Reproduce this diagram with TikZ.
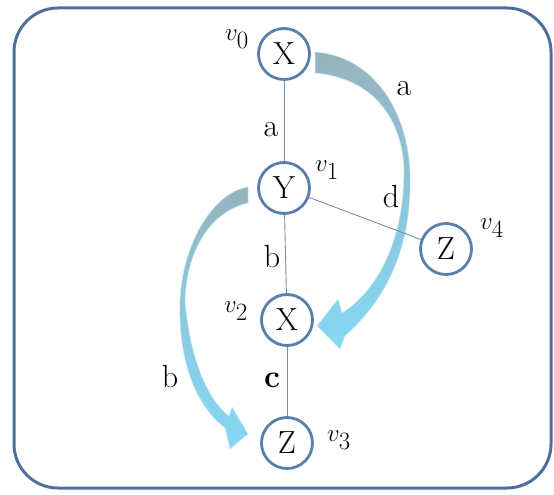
\documentclass[tikz,border=0pt]{standalone}
\definecolor{framec}{HTML}{4E7099}
\definecolor{nodec}{HTML}{5A7FAA}
\definecolor{edgec}{HTML}{7D8EA3}
\definecolor{arrtop}{HTML}{97B3BD}
\definecolor{arrbot}{HTML}{85D7F3}
\begin{document}
\begin{tikzpicture}[x=1pt,y=-1pt,
  vert/.style={circle,draw=nodec,line width=2.8pt,minimum size=51pt,inner sep=0pt,fill=white,font=\fontsize{32}{38}\selectfont},
  lbl/.style={font=\fontsize{35}{40}\selectfont,inner sep=0pt},
  elbl/.style={font=\fontsize{32}{36}\selectfont,inner sep=0pt},
  link/.style={draw=edgec,line width=0.9pt},
  fatarrow/.style={draw=arrbot!45!white,line width=0.5pt,top color=arrtop,bottom color=arrbot}]
\useasboundingbox (0,0) rectangle (554,495);
\draw[framec,line width=3pt,rounded corners=44pt] (14,8) rectangle (551,488);

% fat curved arrows
\path[fatarrow,middle color=arrtop!45!arrbot]
  (315,52) .. controls (370,56) and (406,105) .. (410,170)
  .. controls (413,250) and (385,300) .. (345,336)
  -- (340,349) -- (317,326) -- (338,299) -- (342,313)
  .. controls (378,290) and (404,240) .. (404,170)
  .. controls (402,115) and (370,78) .. (315,73) -- cycle;
\path[fatarrow,middle color=arrtop!35!arrbot]
  (248,187) .. controls (215,192) and (183,240) .. (180,300)
  .. controls (178,360) and (195,405) .. (225,428)
  -- (230,449) -- (248,434) -- (232,407) -- (229,416)
  .. controls (208,400) and (190,360) .. (185,300)
  .. controls (187,250) and (210,212) .. (248,203) -- cycle;

\node[vert] (v0) at (284,54) {X};
\node[vert] (v1) at (284,188) {Y};
\node[vert] (v4) at (446,249) {Z};
\node[vert] (v2) at (287,320) {X};
\node[vert] (v3) at (287,443) {Z};

\draw[link] (v0) -- (v1);
\draw[link] (v1) -- (v2);
\draw[link] (v2) -- (v3);
\draw[link] (v1) -- (v4);

\node[lbl] (l0) at (237,39) {$v_0$};
\node[lbl] (l1) at (327,170) {$v_1$};
\node[lbl] (l4) at (492,228) {$v_4$};
\node[lbl] (l2) at (236,311) {$v_2$};
\node[lbl] (l3) at (339,440) {$v_3$};

\node[elbl] (ea1) at (271,130) {a};
\node[elbl] (ea2) at (404,89) {a};
\node[elbl] (ed) at (391,197) {d};
\node[elbl] (eb1) at (272,257) {b};
\node[elbl] (eb2) at (170,377) {b};
\node[elbl] (ec) at (272,380) {\textbf{c}};
\end{tikzpicture}
\end{document}
